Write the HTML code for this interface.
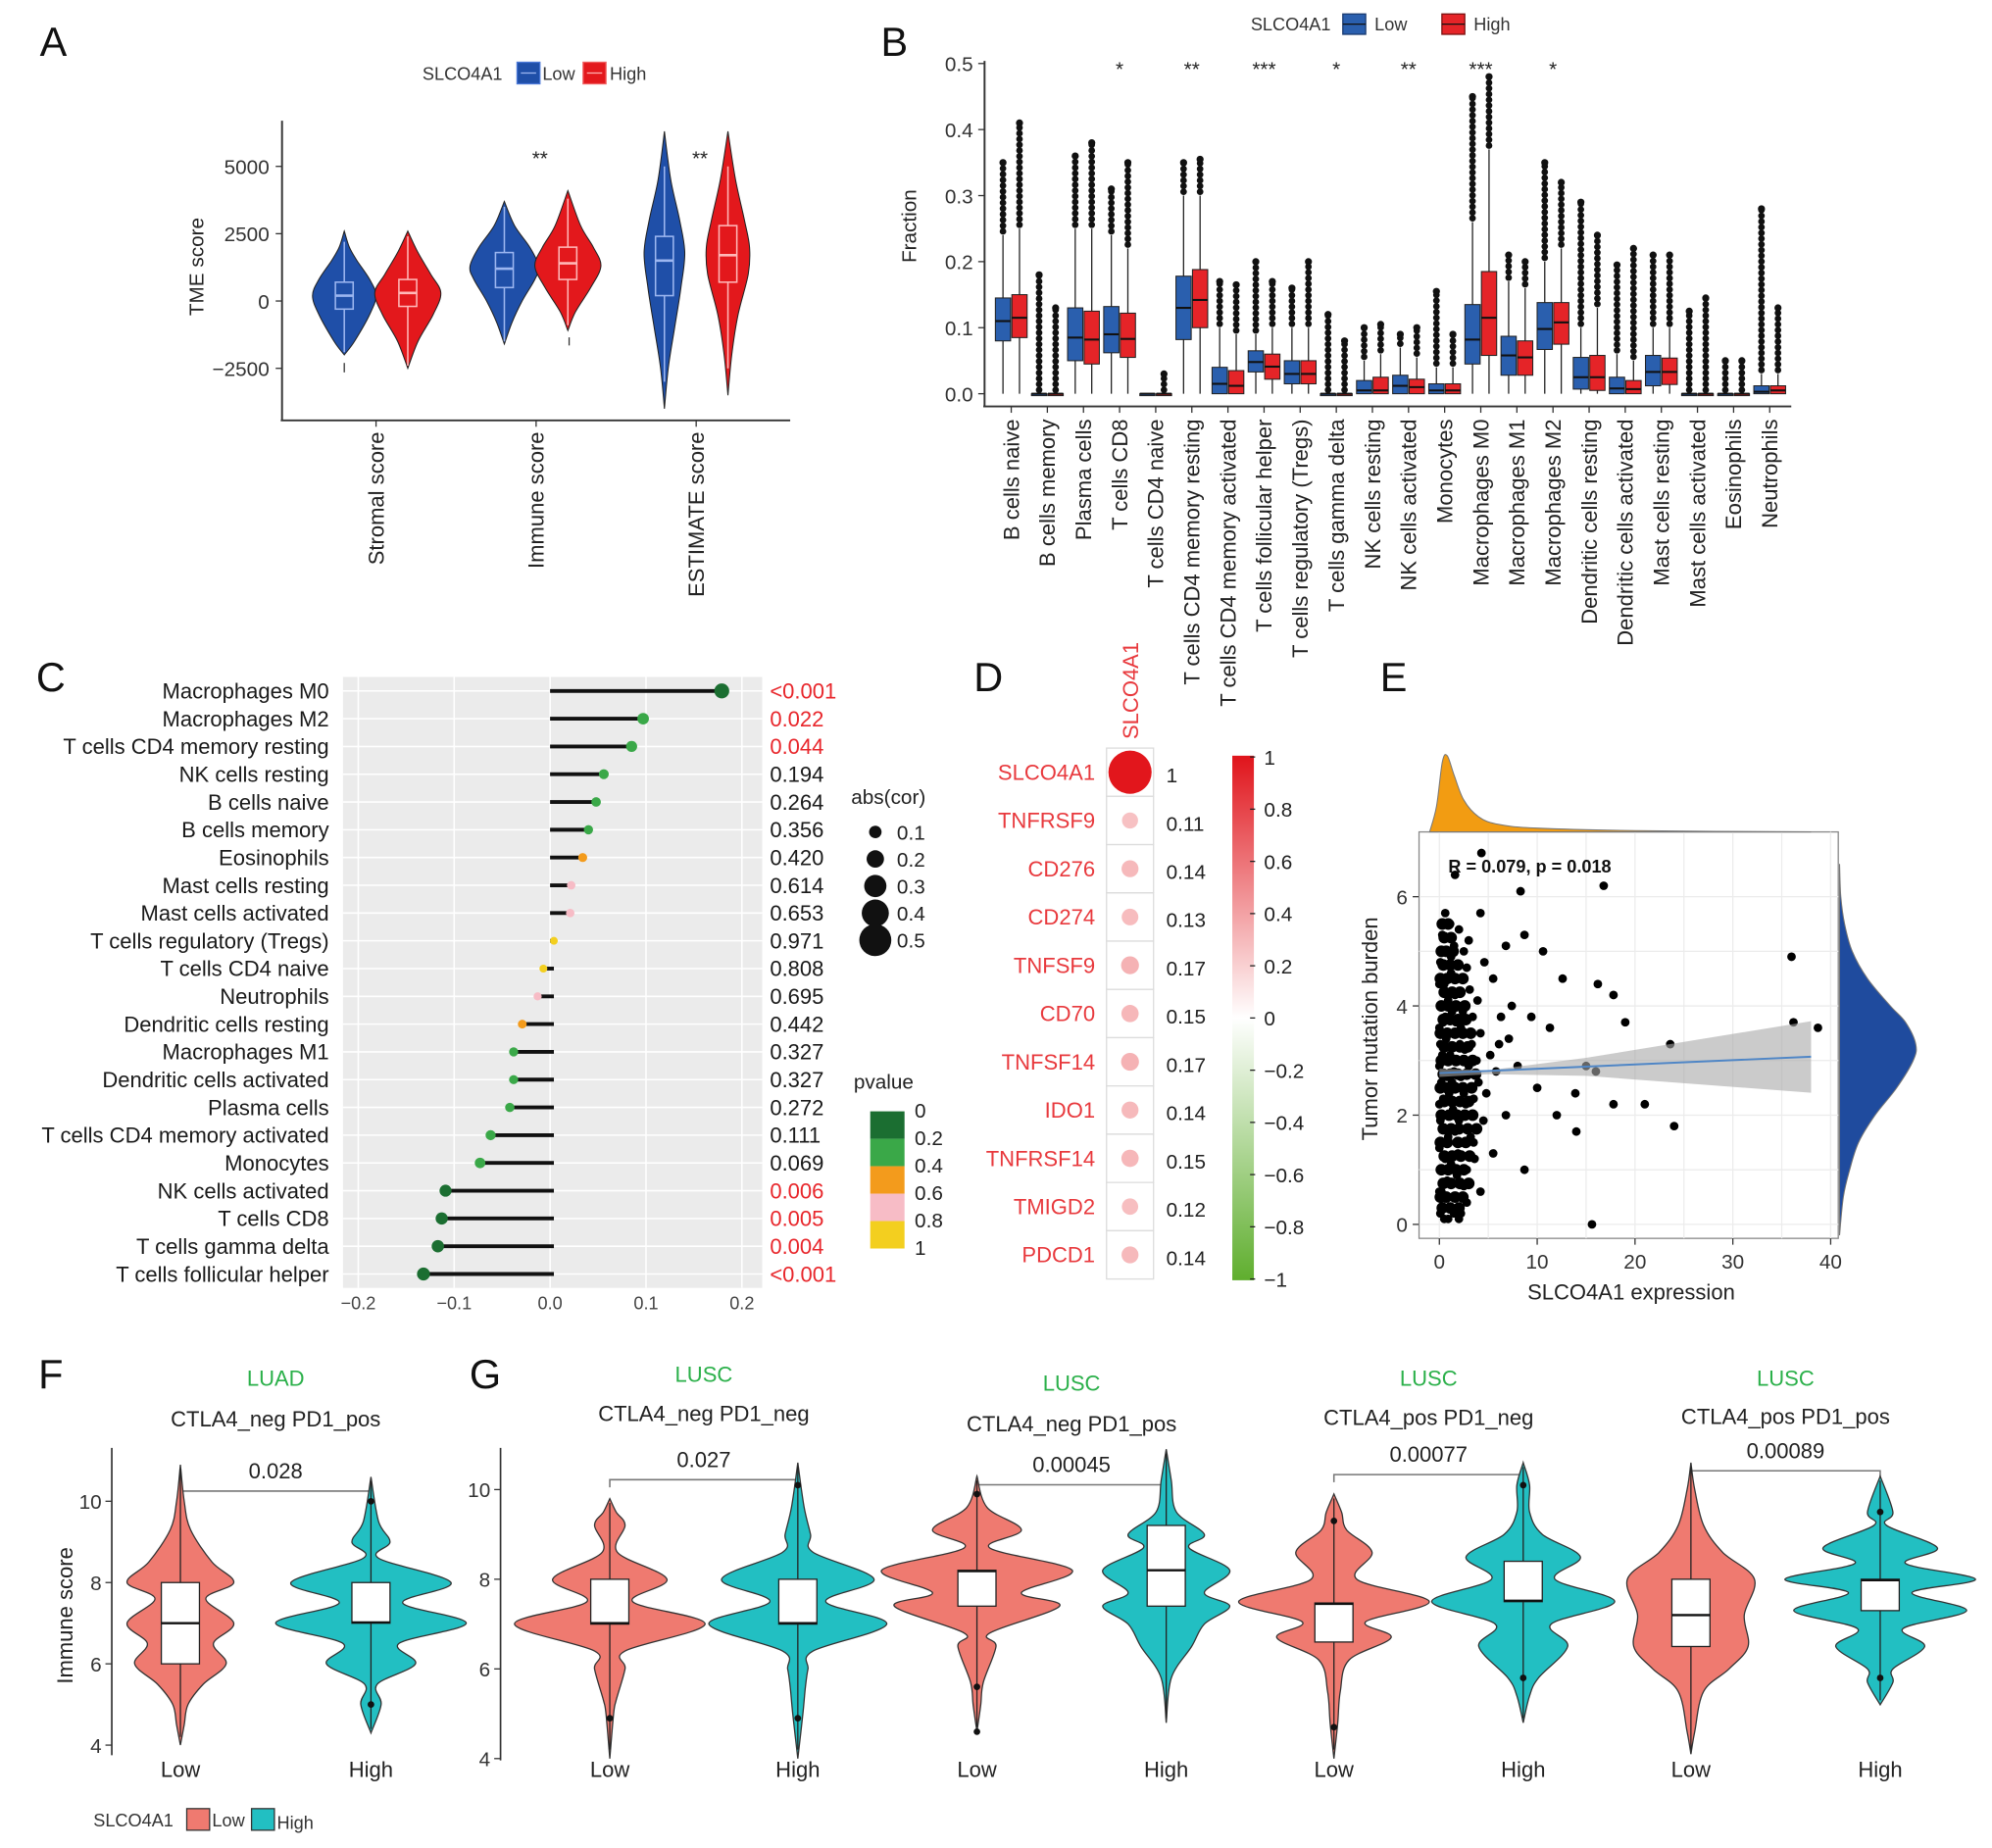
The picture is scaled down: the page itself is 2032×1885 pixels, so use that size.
<!DOCTYPE html>
<html><head><meta charset="utf-8"><title>SLCO4A1 immune figure</title>
<style>html,body{margin:0;padding:0;background:#fff}svg{display:block}text{font-family:"Liberation Sans",Arial,sans-serif}</style>
</head><body>
<svg id="fig" xmlns="http://www.w3.org/2000/svg" width="2032" height="1885" viewBox="0 0 1568 1455" preserveAspectRatio="none">
<defs>
<linearGradient id="dgrad" x1="0" y1="0" x2="0" y2="1">
<stop offset="0" stop-color="#e0141b"/><stop offset="0.5" stop-color="#ffffff"/><stop offset="1" stop-color="#5fae2e"/>
</linearGradient>
</defs>
</svg>
<script>
// ---------- Panel A data ----------
const aCats=['Stromal score','Immune score','ESTIMATE score'];
const aTicks=[5000,2500,0,-2500];
const aTickLabels=['5000','2500','0','\u22122500'];
const aLowKnots=[
 [[-2000,0],[-1500,8],[-500,20],[200,25],[800,20],[1500,10],[2000,4],[2600,0]],
 [[-1600,0],[-800,6],[0,14],[800,24],[1300,27],[2000,20],[2800,8],[3700,0]],
 [[-4000,0],[-2500,3],[-1000,8],[500,13],[1800,16],[3000,12],[4500,5],[6300,0]]];
const aHighKnots=[
 [[-2500,0],[-1500,8],[-500,20],[300,26],[1000,18],[1800,8],[2600,0]],
 [[-1100,0],[-400,6],[500,18],[1300,26],[2000,20],[2800,10],[4100,0]],
 [[-3500,0],[-2000,3],[-500,8],[1000,16],[2000,17],[3000,13],[4500,6],[6300,0]]];
const aLowBox=[[-300,200,700,-1900,2200],[500,1200,1800,-1500,3500],[200,1500,2400,-3000,5000]];
const aHighBox=[[-200,300,800,-2400,2400],[800,1400,2000,-900,3800],[700,1700,2800,-2500,5000]];
const aStars=['','**','**'];
// ---------- Panel B data ----------
const bCats=['B cells naive','B cells memory','Plasma cells','T cells CD8','T cells CD4 naive','T cells CD4 memory resting','T cells CD4 memory activated','T cells follicular helper','T cells regulatory (Tregs)','T cells gamma delta','NK cells resting','NK cells activated','Monocytes','Macrophages M0','Macrophages M1','Macrophages M2','Dendritic cells resting','Dendritic cells activated','Mast cells resting','Mast cells activated','Eosinophils','Neutrophils'];
const bTicks=[0,0.1,0.2,0.3,0.4,0.5];
const bTickLabels=['0.0','0.1','0.2','0.3','0.4','0.5'];
// q1, median, q3, upper whisker, max outlier
const bLow=[[.08,.11,.145,.24,.35],[0,0,0,0,.18],[.05,.085,.13,.25,.36],[.062,.09,.132,.24,.31],[0,0,0,0,0],[.082,.13,.178,.3,.35],[0,.015,.04,.1,.17],[.033,.048,.065,.09,.2],[.015,.03,.05,.1,.16],[0,0,0,0,.12],[0,.005,.02,.05,.1],[0,.012,.028,.07,.09],[0,.005,.015,.04,.155],[.045,.082,.135,.26,.45],[.028,.058,.087,.17,.21],[.067,.098,.138,.2,.35],[.007,.025,.055,.1,.29],[0,.008,.025,.06,.195],[.012,.033,.058,.1,.21],[0,0,0,0,.125],[0,0,0,0,.05],[0,.003,.012,.03,.28]];
const bHigh=[[.085,.115,.15,.25,.41],[0,0,0,0,.13],[.045,.082,.125,.25,.38],[.055,.083,.122,.22,.35],[0,0,0,0,.03],[.1,.142,.188,.3,.355],[0,.012,.035,.09,.165],[.022,.041,.06,.1,.17],[.015,.03,.05,.1,.2],[0,0,0,0,.08],[0,.005,.025,.06,.105],[0,.01,.022,.055,.1],[0,.005,.015,.04,.09],[.058,.115,.185,.37,.48],[.028,.055,.08,.16,.2],[.075,.108,.138,.22,.32],[.005,.025,.058,.13,.24],[0,.007,.02,.05,.22],[.014,.033,.054,.1,.21],[0,0,0,0,.145],[0,0,0,0,.05],[0,.005,.012,.03,.13]];
const bStars=['','','','*','','**','','***','','*','','**','','***','','*','','','','','',''];
// ---------- Panel C data ----------
const cCells=['Macrophages M0','Macrophages M2','T cells CD4 memory resting','NK cells resting','B cells naive','B cells memory','Eosinophils','Mast cells resting','Mast cells activated','T cells regulatory (Tregs)','T cells CD4 naive','Neutrophils','Dendritic cells resting','Macrophages M1','Dendritic cells activated','Plasma cells','T cells CD4 memory activated','Monocytes','NK cells activated','T cells CD8','T cells gamma delta','T cells follicular helper'];
const cCor=[0.179,0.097,0.085,0.056,0.048,0.040,0.034,0.022,0.021,0.004,-0.007,-0.013,-0.029,-0.038,-0.038,-0.042,-0.062,-0.073,-0.109,-0.113,-0.117,-0.132];
const cP=['<0.001','0.022','0.044','0.194','0.264','0.356','0.420','0.614','0.653','0.971','0.808','0.695','0.442','0.327','0.327','0.272','0.111','0.069','0.006','0.005','0.004','<0.001'];
const cTicks=[-0.2,-0.1,0,0.1,0.2];
const cTickLabels=['\u22120.2','\u22120.1','0.0','0.1','0.2'];
const cSizeLegend=[0.1,0.2,0.3,0.4,0.5];
const cPLegend=['0','0.2','0.4','0.6','0.8','1'];
// ---------- Panel D data ----------
const dGenes=['SLCO4A1','TNFRSF9','CD276','CD274','TNFSF9','CD70','TNFSF14','IDO1','TNFRSF14','TMIGD2','PDCD1'];
const dCor=[1,0.11,0.14,0.13,0.17,0.15,0.17,0.14,0.15,0.12,0.14];
const dBarLabels=['1','0.8','0.6','0.4','0.2','0','\u22120.2','\u22120.4','\u22120.6','\u22120.8','\u22121'];
// ---------- Panel E data ----------
const eX=[0.1,0.5,1,1.5,2,0.2,0.8,1.3,2.5,0.1,0.6,1.2,1.9,2.8,0.3,0.9,1.6,2.3,3.2,0.1,0.7,1.4,2.0,2.7,0.4,1.0,1.8,2.5,3.5,0.2,0.8,1.5,2.2,3.0,0.5,1.1,1.9,2.6,3.8,0.1,0.7,1.4,2.1,2.9,0.4,1.0,1.7,2.4,3.4,0.2,0.9,1.6,2.3,3.1,0.5,1.2,2.0,2.8,0.1,0.8,1.5,2.5,0.3,1.1,2.0,0.6,0.0,0.0,0.0,0.0,0.0,0.0,0.3,0.3,0.6,0.6,1.3,1.3,2.2,3.3,4.0,4.2,3.6,4.5,3.9,1.8,0.9,2.8,1.2,3.0,4.6,5.2,5.8,6.3,7.1,4.3,8.3,16.8,36,36.2,38.7,23.6,15.6,24,17.8,21,13.9,16,17.8,16.2,12.6,10.6,8.7,6.8,5.5,7.4,9.4,11.3,6.1,8,10,4.8,6.8,3.5,5.5,8.7,4.2,2.2,12,14,19,4.2,1.6,15];
const eY=[0.2,0.1,0.3,0.2,0.1,0.6,0.8,0.5,0.7,1.0,1.2,1.1,1.3,1.0,1.5,1.6,1.7,1.5,1.6,1.9,2.0,2.1,1.9,2.2,2.3,2.4,2.5,2.4,2.3,2.6,2.7,2.8,2.7,2.9,3.0,3.1,3.0,3.2,3.0,3.3,3.4,3.5,3.3,3.5,3.7,3.8,3.7,3.9,3.8,4.0,4.1,4.2,4.0,4.3,4.4,4.6,4.5,4.7,4.8,5.0,5.1,5.0,5.3,5.5,5.4,5.7,2.9,3.6,2.2,1.4,4.4,0.6,2.0,3.1,2.5,3.8,2.6,3.9,3.6,3.3,2.6,3.5,1.2,1.9,4.1,0.9,0.1,0.4,4.9,5.2,4.8,3.1,2.8,3.8,3.4,6.8,6.1,6.2,4.9,3.7,3.6,3.3,0,1.8,2.2,2.2,2.4,2.8,4.2,4.4,4.5,5.0,5.3,5.1,4.5,4.0,3.8,3.6,3.3,2.9,2.5,2.4,2.0,1.5,1.3,1.0,0.6,0.2,2.0,1.7,3.7,5.7,6.4,2.9];
const eX2=[.3,1.1,2.0,.1,.7,1.6,2.4,.4,1.2,2.1,3.0,.2,.9,1.7,2.5,.5,1.3,2.2,3.1,.1,.8,1.9,2.7,.4,1.2,2.0,2.9,3.8,.2,1.0,1.8,2.6,3.4,.5,1.3,2.1,3.0,.1,.8,1.6,2.4,3.3,.4,1.1,1.9,2.8,3.7,.2,.9,1.7,2.5,3.4,.5,1.3,2.1,2.9,.1,.8,1.6,2.4,3.2,.4,1.1,1.9,2.7,.2,.9,1.7,2.6,.5,1.3,2.1,.1,.8,1.6,2.4,.4,1.1,1.9,.2,.7,1.4,.5,1.2,.3,.9];
const eY2=[.3,.3,.3,.5,.5,.5,.5,.75,.75,.75,.75,1,1,1,1,1.25,1.25,1.25,1.25,1.5,1.5,1.5,1.5,1.75,1.75,1.75,1.75,1.75,2,2,2,2,2,2.25,2.25,2.25,2.25,2.5,2.5,2.5,2.5,2.5,2.75,2.75,2.75,2.75,2.75,3,3,3,3,3,3.25,3.25,3.25,3.25,3.5,3.5,3.5,3.5,3.5,3.75,3.75,3.75,3.75,4,4,4,4,4.25,4.25,4.25,4.5,4.5,4.5,4.5,4.75,4.75,4.75,5,5,5,5.25,5.25,5.5,5.5];
const eXTicks=[0,10,20,30,40];
const eYTicks=[0,2,4,6];
const eTopDens=[[-1,0],[-0.3,20],[0.3,55],[0.8,60],[1.5,45],[2.5,25],[4,12],[6,6],[10,3],[20,1],[38,0]];
const eRightDens=[[-0.2,0],[0.5,3],[1,8],[1.5,15],[2,28],[2.5,45],[3,58],[3.3,60],[3.7,52],[4,40],[4.5,22],[5,10],[5.5,4],[6,1],[6.6,0]];
const eFit=[[0,2.77],[38,3.07]];
const eBand=[[0,2.85,2.7],[5,2.82,2.75],[15,3.05,2.72],[38,3.72,2.41]];
// ---------- Panel F/G data ----------
const fgGroups=[['LUAD','CTLA4_neg PD1_pos','0.028'],['LUSC','CTLA4_neg PD1_neg','0.027'],['LUSC','CTLA4_neg PD1_pos','0.00045'],['LUSC','CTLA4_pos PD1_neg','0.00077'],['LUSC','CTLA4_pos PD1_pos','0.00089']];
const fgLowKnots=[
 [[4,0],[4.5,3],[5,6],[5.5,18],[6,36],[6.5,26],[7,42],[7.6,20],[8,42],[8.5,25],[9.3,8],[10,3],[10.9,0]],
 [[4,0],[5,3],[5.3,5],[6,12],[6.4,12],[7,75],[7.5,18],[8,45],[8.6,6],[9.2,12],[9.5,5],[9.8,0]],
 [[4.6,0],[5.2,3],[5.7,5],[6.5,15],[6.8,10],[7.4,65],[7.7,35],[8.2,75],[8.7,10],[9.1,35],[9.6,8],[10.3,0]],
 [[4,0],[4.8,3],[5.5,5],[6.2,12],[6.7,45],[7.05,25],[7.5,75],[8,18],[8.6,30],[9.1,10],[9.5,6],[9.9,0]],
 [[4.1,0],[4.6,3],[5.5,10],[6,30],[6.5,45],[7.2,42],[8,50],[8.6,25],[9.2,10],[10,3],[10.6,0]]];
const fgHighKnots=[
 [[4.3,0],[5,8],[5.5,5],[6,35],[6.5,22],[7,75],[7.5,25],[8,63],[8.6,6],[9,15],[9.5,6],[10.6,0]],
 [[4,0],[5,4],[5.6,6],[6,8],[6.4,12],[7,70],[7.5,22],[8,60],[8.6,12],[9,10],[9.6,5],[10.6,0]],
 [[4.8,0],[5.8,4],[6.5,20],[7,30],[7.4,50],[7.7,30],[8.2,50],[8.7,18],[9,30],[9.5,8],[10.2,4],[10.9,0]],
 [[4.8,0],[5.4,5],[5.8,12],[6.5,35],[7,22],[7.5,72],[8,25],[8.5,45],[9,15],[9.5,5],[10.1,5],[10.6,0]],
 [[5.2,0],[5.7,10],[6,10],[6.5,35],[6.9,18],[7.3,68],[7.7,25],[8,75],[8.35,20],[8.7,45],[9.2,5],[9.5,10],[10.3,0]]];
// q1, median, q3, whisker low, whisker high
const fgLowBox=[[6,7,8,4.2,10.8],[7,7.02,8,4.2,9.7],[7.4,8.18,8.2,4.7,10.2],[6.6,7.45,7.47,4.2,9.8],[6.5,7.2,8,4.2,10.5]];
const fgHighBox=[[7,7.02,8,4.4,10.5],[7,7.02,8,4.2,10.5],[7.4,8.2,9.2,4.9,10.8],[7.5,7.52,8.4,4.9,10.5],[7.3,7.98,8,5.3,10.2]];
const fgLowOut=[[],[4.9],[9.9,5.6,4.6],[9.3,4.7],[]];
const fgHighOut=[[10,5],[10.1,4.9],[],[10.1,5.8],[9.5,5.8]];
const fgTicks=[4,6,8,10];

const NS='http://www.w3.org/2000/svg';
const svg=document.getElementById('fig');
function mk(tag,attrs,parent){const e=document.createElementNS(NS,tag);for(const k in attrs)e.setAttribute(k,attrs[k]);(parent||svg).appendChild(e);return e;}
function txt(x,y,s,attrs,parent){const e=mk('text',Object.assign({x:x,y:y},attrs||{}),parent);e.textContent=s;return e;}
function grp(name){const g=mk('g',{});


return g;}
function smoothPath(pts){let d='M'+pts[0][0].toFixed(1)+','+pts[0][1].toFixed(1);
 for(let i=0;i<pts.length-1;i++){const p0=pts[i-1]||pts[i],p1=pts[i],p2=pts[i+1],p3=pts[i+2]||p2;
  const c1=[p1[0]+(p2[0]-p0[0])/6,p1[1]+(p2[1]-p0[1])/6],c2=[p2[0]-(p3[0]-p1[0])/6,p2[1]-(p3[1]-p1[1])/6];
  d+=' C'+c1[0].toFixed(1)+','+c1[1].toFixed(1)+' '+c2[0].toFixed(1)+','+c2[1].toFixed(1)+' '+p2[0].toFixed(1)+','+p2[1].toFixed(1);}
 return d;}
function violinD(cx,knots,yf){const s=knots.slice().sort((a,b)=>b[0]-a[0]);
 const right=s.map(k=>[cx+k[1],yf(k[0])]);const left=s.slice().reverse().map(k=>[cx-k[1],yf(k[0])]);
 return smoothPath(right)+' '+smoothPath(left).replace('M','L')+' Z';}
function letter(x,y,s){const t=txt(x,y,s,{'font-size':32,'text-anchor':'middle',fill:'#111'});

}

// ================= PANEL A =================
(function(){
 const g=grp('panel-a');
 letter(42,44,'A');
 const yA=v=>237-v*53/2500, xA=i=>296+i*126;
 const lg=mk('g',{},g);
 
 
 txt(364,63,'SLCO4A1',{'font-size':14,'text-anchor':'middle',fill:'#333'},lg);
 mk('rect',{x:407,y:49,width:18,height:17,fill:'#1f4fa8',stroke:'#4a78d8'},lg);
 mk('line',{x1:410,x2:422,y1:57.5,y2:57.5,stroke:'#9cb6f0'},lg);
 txt(427,63,'Low',{'font-size':14,fill:'#333'},lg);
 mk('rect',{x:459,y:49,width:18,height:17,fill:'#e3181c',stroke:'#f06060'},lg);
 mk('line',{x1:462,x2:474,y1:57.5,y2:57.5,stroke:'#ffb0b0'},lg);
 txt(480,63,'High',{'font-size':14,fill:'#333'},lg);
 mk('line',{x1:222,y1:95,x2:222,y2:331,stroke:'#333','stroke-width':1.5},g);
 mk('line',{x1:221,y1:331,x2:622,y2:331,stroke:'#333','stroke-width':1.5},g);
 aTicks.forEach((v,i)=>{mk('line',{x1:217,x2:222,y1:yA(v),y2:yA(v),stroke:'#333'},g);
  const t=txt(212,yA(v)+6,aTickLabels[i],{'font-size':16,'text-anchor':'end',fill:'#333'},g);
  
  });
 const yl=txt(0,0,'TME score',{'font-size':16,'text-anchor':'middle',fill:'#222',transform:'translate(160,210) rotate(-90)'},g);
 
 
 aCats.forEach((c,i)=>{const cx=xA(i);
  mk('line',{x1:cx,x2:cx,y1:331,y2:336,stroke:'#333'},g);
  const lab=txt(0,0,c,{'font-size':17,'text-anchor':'end',fill:'#222',transform:'translate('+(cx+6)+',340) rotate(-90)'},g);
  
  
  [[aLowKnots,aLowBox,-25,'#1f4fa8','#9cb6f0','low'],[aHighKnots,aHighBox,25,'#e3181c','#ffb8b8','high']].forEach(s=>{
   const x=cx+s[2],b=s[1][i];
   const v=mk('path',{d:violinD(x,s[0][i],yA),fill:s[3],stroke:'#222','stroke-width':0.8},g);
   
   
   mk('line',{x1:x,x2:x,y1:yA(b[4]),y2:yA(b[3]),stroke:s[4],'stroke-width':1.2},g);
   const bx=mk('rect',{x:x-7,y:yA(b[2]),width:14,height:yA(b[0])-yA(b[2]),fill:s[3],stroke:s[4],'stroke-width':1.2},g);
   
   
   mk('line',{x1:x-7,x2:x+7,y1:yA(b[1]),y2:yA(b[1]),stroke:s[4],'stroke-width':2},g);
  });
  if(aStars[i]){const st=txt(cx+3,130,aStars[i],{'font-size':16,'text-anchor':'middle',fill:'#222'},g);
   
   }
 });
 mk('line',{x1:271,x2:271,y1:yA(-2300),y2:yA(-2650),stroke:'#333'},g);
 mk('line',{x1:448,x2:448,y1:yA(-1350),y2:yA(-1650),stroke:'#333'},g);
})();

// ================= PANEL B =================
(function(){
 const g=grp('panel-b');
 letter(704,44,'B');
 const yB=v=>310-v*520, xB=i=>796+i*28.43;
 const lg=mk('g',{},g);
 
 
 txt(1016,24,'SLCO4A1',{'font-size':14,'text-anchor':'middle',fill:'#333'},lg);
 mk('rect',{x:1057,y:11,width:18,height:16,fill:'#2a5fae',stroke:'#1a3a70'},lg);
 mk('line',{x1:1057,x2:1075,y1:19,y2:19,stroke:'#111'},lg);
 txt(1082,24,'Low',{'font-size':14,fill:'#333'},lg);
 mk('rect',{x:1135,y:11,width:18,height:16,fill:'#e52428',stroke:'#7a1010'},lg);
 mk('line',{x1:1135,x2:1153,y1:19,y2:19,stroke:'#111'},lg);
 txt(1160,24,'High',{'font-size':14,fill:'#333'},lg);
 mk('line',{x1:775,y1:48,x2:775,y2:320,stroke:'#333','stroke-width':1.5},g);
 mk('line',{x1:774,y1:320,x2:1410,y2:320,stroke:'#333','stroke-width':1.5},g);
 bTicks.forEach((v,i)=>{mk('line',{x1:770,x2:775,y1:yB(v),y2:yB(v),stroke:'#333'},g);
  const t=txt(766,yB(v)+6,bTickLabels[i],{'font-size':16,'text-anchor':'end',fill:'#333'},g);
  
  });
 const yl=txt(0,0,'Fraction',{'font-size':16,'text-anchor':'middle',fill:'#222',transform:'translate(721,178) rotate(-90)'},g);
 
 
 bCats.forEach((c,i)=>{const cx=xB(i);
  mk('line',{x1:cx,x2:cx,y1:320,y2:325,stroke:'#333'},g);
  const lab=txt(0,0,c,{'font-size':17,'text-anchor':'end',fill:'#222',transform:'translate('+(cx+6)+',330) rotate(-90)'},g);
  
  
  [[bLow,-6.5,'#2a5fae','low'],[bHigh,6.5,'#e52428','high']].forEach(s=>{
   const x=cx+s[1],b=s[0][i];
   if(b[4]>b[3]){const top=yB(b[4]),bot=yB(b[3])-3;
    for(let yy=bot;yy>=top-0.1;yy-=4.5){mk('circle',{cx:x,cy:yy,r:2.6,fill:'#111'},g);}
    const o=mk('circle',{cx:x,cy:top,r:2.8,fill:'#111'},g);
    
    }
   mk('line',{x1:x,x2:x,y1:yB(b[3]),y2:yB(0),stroke:'#222','stroke-width':1},g);
   const h=Math.max(1.5,yB(b[0])-yB(b[2]));
   const bx=mk('rect',{x:x-6,y:yB(b[2]),width:12,height:h,fill:s[2],stroke:'#222','stroke-width':0.8},g);
   
   
   mk('line',{x1:x-6,x2:x+6,y1:yB(b[1]),y2:yB(b[1]),stroke:'#111','stroke-width':1.6},g);
  });
  if(bStars[i]){const st=txt(cx,60,bStars[i],{'font-size':16,'text-anchor':'middle',fill:'#222'},g);
   
   }
 });
})();

// ================= PANEL C =================
(function(){
 const g=grp('panel-c');
 letter(40,544,'C');
 const x0=v=>433+v*755, yr=i=>544+i*21.86;
 mk('rect',{x:270,y:533,width:330,height:481,fill:'#ebebeb'},g);
 cTicks.forEach(v=>{mk('line',{x1:x0(v),x2:x0(v),y1:533,y2:1014,stroke:'#fff','stroke-width':1.2},g);});
 cCells.forEach((c,i)=>{mk('line',{x1:270,x2:600,y1:yr(i),y2:yr(i),stroke:'#fff','stroke-width':1.2},g);});
 cTicks.forEach((v,i)=>{const t=txt(x0(v),1031,cTickLabels[i],{'font-size':14,'text-anchor':'middle',fill:'#444'},g);
  
  });
 const pnum=s=>s[0]==='<'?0.0005:parseFloat(s);
 const pcol=p=>p<=0.01?'#1b6e31':p<=0.4?'#3aa848':p<=0.6?'#f39b1c':p<=0.8?'#f7bcc6':'#f3cf1f';
 cCells.forEach((c,i)=>{const y=yr(i);
  const l=txt(259,y+6,c,{'font-size':17,'text-anchor':'end',fill:'#1a1a1a'},g);
  
  
  const st=mk('line',{x1:x0(0)+(cCor[i]<0?3:0),x2:x0(cCor[i]),y1:y,y2:y,stroke:'#111','stroke-width':3},g);
  
  
  const d=mk('circle',{cx:x0(cCor[i]),cy:y,r:3+16*Math.abs(cCor[i]),fill:pcol(pnum(cP[i]))},g);
  
  
  const p=txt(606,y+6,cP[i],{'font-size':17,fill:pnum(cP[i])<0.05?'#e8262b':'#1a1a1a'},g);
  
  
 });
 const t1=txt(670,633,'abs(cor)',{'font-size':16,fill:'#222'},g);
 
 
 cSizeLegend.forEach((v,i)=>{const y=655+i*21.3;
  const c=mk('circle',{cx:689,cy:y,r:3+16*v*1.2,fill:'#111'},g);
  
  
  txt(706,y+6,String(v),{'font-size':16,fill:'#222'},g);});
 const t2=txt(672,857,'pvalue',{'font-size':16,fill:'#222'},g);
 
 
 ['#1b6e31','#3aa848','#f39b1c','#f7bcc6','#f3cf1f'].forEach((col,i)=>{
  const r=mk('rect',{x:685,y:875+i*21.6,width:27,height:21.6,fill:col},g);
  
  });
 cPLegend.forEach((s,i)=>{txt(720,880+i*21.6,s,{'font-size':16,fill:'#222'},g);});
})();

// ================= PANEL D =================
(function(){
 const g=grp('panel-d');
 letter(778,544,'D');
 const tt=txt(0,0,'SLCO4A1',{'font-size':17,'text-anchor':'start',fill:'#e8393d',transform:'translate(896,582) rotate(-90)'},g);
 
 
 dGenes.forEach((gname,i)=>{const top=589+i*38,cy=top+19;
  mk('rect',{x:871,y:top,width:37,height:38,fill:'#fff',stroke:'#dcdcdc'},g);
  const l=txt(862,cy+6,gname,{'font-size':17,'text-anchor':'end',fill:'#e8393d'},g);
  
  
  const t=Math.sqrt(dCor[i])*0.8+(dCor[i]>=1?0.2:0);
  const col='rgb('+Math.round(255-(255-226)*t)+','+Math.round(255-(255-22)*t)+','+Math.round(255-(255-28)*t)+')';
  const c=mk('circle',{cx:889.5,cy:cy,r:5+12*dCor[i],fill:col},g);
  
  
  const v=txt(918,cy+8,String(dCor[i]),{'font-size':16,fill:'#222'},g);
  
  
 });
 const cb=mk('rect',{x:970,y:595,width:17,height:413,fill:'url(#dgrad)'},g);
 
 
 dBarLabels.forEach((s,i)=>{const y=596+i*41.1;mk('line',{x1:984,x2:988,y1:y,y2:y,stroke:'#222'},g);
  txt(995,y+6,s,{'font-size':16,fill:'#222'},g);});
})();

// ================= PANEL E =================
(function(){
 const g=grp('panel-e');
 letter(1097,544,'E');
 const xE=v=>1133+v*7.7, yE=v=>964-v*43;
 mk('rect',{x:1117,y:655,width:330,height:320,fill:'#fff',stroke:'#888'},g);
 [0,5,10,15,20,25,30,35,40].forEach(v=>mk('line',{x1:xE(v),x2:xE(v),y1:655,y2:975,stroke:'#ececec'},g));
 [0,1,2,3,4,5,6].forEach(v=>mk('line',{x1:1117,x2:1447,y1:yE(v),y2:yE(v),stroke:'#ececec'},g));
 const top=mk('path',{d:smoothPath(eTopDens.map(k=>[xE(k[0]),655-k[1]]))+' Z',fill:'#f29c12',stroke:'#777','stroke-width':0.8},g);
 
 
 const rd=mk('path',{d:smoothPath(eRightDens.map(k=>[1448+k[1],yE(k[0])]))+' Z',fill:'#1f4b9e',stroke:'#777','stroke-width':0.8},g);
 
 
 eX.forEach((x,i)=>{const p=mk('circle',{cx:xE(x),cy:yE(eY[i]),r:3.4,fill:'#000'},g);
  
  });
 eX2.forEach((x,i)=>{const p=mk('circle',{cx:xE(x),cy:yE(eY2[i]),r:4.6,fill:'#000'},g);
  
  });
 const up=eBand.map(b=>[xE(b[0]),yE(b[1])]), lo=eBand.slice().reverse().map(b=>[xE(b[0]),yE(b[2])]);
 const band=mk('path',{d:'M'+up.map(p=>p.join(',')).join(' L')+' L'+lo.map(p=>p.join(',')).join(' L')+' Z',fill:'#a8a8a8','fill-opacity':0.6},g);
 
 
 const fit=mk('line',{x1:xE(eFit[0][0]),y1:yE(eFit[0][1]),x2:xE(eFit[1][0]),y2:yE(eFit[1][1]),stroke:'#4f86c6','stroke-width':1.5},g);
 
 
 const r=txt(1140,687,'R = 0.079, p = 0.018',{'font-size':14,'font-weight':'bold','font-family':'Liberation Serif, serif',fill:'#111'},g);
 
 
 eXTicks.forEach(v=>{mk('line',{x1:xE(v),x2:xE(v),y1:975,y2:980,stroke:'#333'},g);
  txt(xE(v),999,String(v),{'font-size':16,'text-anchor':'middle',fill:'#333'},g);});
 eYTicks.forEach(v=>{mk('line',{x1:1112,x2:1117,y1:yE(v),y2:yE(v),stroke:'#333'},g);
  txt(1108,yE(v)+6,String(v),{'font-size':16,'text-anchor':'end',fill:'#333'},g);});
 const xl=txt(1284,1023,'SLCO4A1 expression',{'font-size':17,'text-anchor':'middle',fill:'#222'},g);
 
 
 const yl=txt(0,0,'Tumor mutation burden',{'font-size':17,'text-anchor':'middle',fill:'#222',transform:'translate(1084,810) rotate(-90)'},g);
 
 
})();

// ================= PANELS F & G =================
(function(){
 const g=grp('panel-f-g');
 letter(40,1093,'F');
 letter(382,1093,'G');
 const centers=[[142,292],[480,628],[769,918],[1050,1199],[1331,1480]];
 const titleY=[[1091,1123],[1088,1119],[1095,1127],[1091,1122],[1091,1121]];
 const bracketY=[1174,1165,1169,1161,1158];
 const yF=v=>1310-(v-6)*32, yG=v=>1314-(v-6)*35.3;
 mk('line',{x1:88,x2:88,y1:1140,y2:1382,stroke:'#333','stroke-width':1.3},g);
 mk('line',{x1:394,x2:394,y1:1140,y2:1386,stroke:'#333','stroke-width':1.3},g);
 fgTicks.forEach(v=>{mk('line',{x1:83,x2:88,y1:yF(v),y2:yF(v),stroke:'#333'},g);
  txt(80,yF(v)+6,String(v),{'font-size':16,'text-anchor':'end',fill:'#333'},g);
  mk('line',{x1:389,x2:394,y1:yG(v),y2:yG(v),stroke:'#333'},g);
  txt(386,yG(v)+6,String(v),{'font-size':16,'text-anchor':'end',fill:'#333'},g);});
 const yl=txt(0,0,'Immune score',{'font-size':17,'text-anchor':'middle',fill:'#222',transform:'translate(57,1272) rotate(-90)'},g);
 
 
 fgGroups.forEach((gr,i)=>{const yf=i===0?yF:yG;const cl=centers[i][0],ch=centers[i][1],mid=(cl+ch)/2;
  const t1=txt(mid,titleY[i][0],gr[0],{'font-size':17,'text-anchor':'middle',fill:'#2bb04a'},g);
  
  
  const t2=txt(mid,titleY[i][1],gr[1],{'font-size':17,'text-anchor':'middle',fill:'#222'},g);
  
  
  const by=bracketY[i];
  mk('path',{d:'M'+cl+','+(by+6)+' V'+by+' H'+ch+' V'+(by+6),fill:'none',stroke:'#777','stroke-width':1.2},g);
  const pv=txt(mid,by-10,gr[2],{'font-size':17,'text-anchor':'middle',fill:'#222'},g);
  
  
  [[cl,fgLowKnots[i],fgLowBox[i],'#ef7a70','Low',fgLowOut[i]],[ch,fgHighKnots[i],fgHighBox[i],'#22bfc2','High',fgHighOut[i]]].forEach(s=>{
   const x=s[0],b=s[2];
   const v=mk('path',{d:violinD(x,s[1],yf),fill:s[3],stroke:'#333','stroke-width':1},g);
   
   
   mk('line',{x1:x,x2:x,y1:yf(b[4]),y2:yf(b[3]),stroke:'#222','stroke-width':1},g);
   const bx=mk('rect',{x:x-15,y:yf(b[2]),width:30,height:yf(b[0])-yf(b[2]),fill:'#fff',stroke:'#222','stroke-width':1},g);
   
   
   mk('line',{x1:x-15,x2:x+15,y1:yf(b[1]),y2:yf(b[1]),stroke:'#111','stroke-width':1.8},g);
   s[5].forEach(o=>{const c=mk('circle',{cx:x,cy:yf(o),r:2.6,fill:'#111'},g);
    
    });
   const xl=txt(x,1399,s[4],{'font-size':17,'text-anchor':'middle',fill:'#222'},g);
   
   
  });
 });
 const lg=mk('g',{},g);
 
 
 txt(105,1438,'SLCO4A1',{'font-size':14,'text-anchor':'middle',fill:'#333'},lg);
 mk('rect',{x:147,y:1424,width:18,height:17,fill:'#ef7a70',stroke:'#333'},lg);
 txt(167,1438,'Low',{'font-size':14,fill:'#333'},lg);
 mk('rect',{x:198,y:1424,width:18,height:17,fill:'#22bfc2',stroke:'#333'},lg);
 txt(218,1440,'High',{'font-size':14,fill:'#333'},lg);
})();
</script>
</body></html>
